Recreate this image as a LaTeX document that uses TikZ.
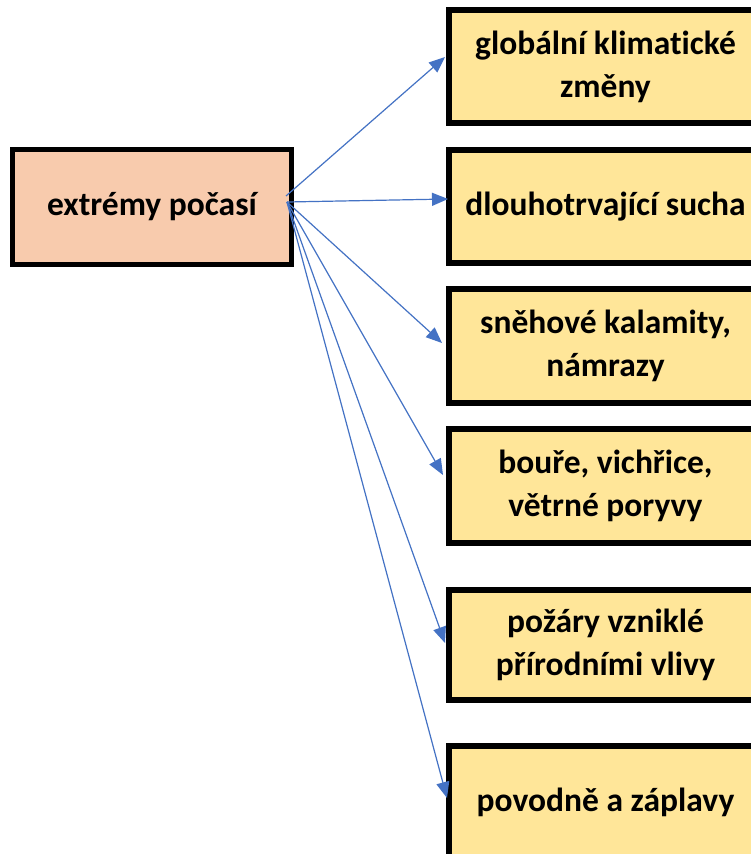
\documentclass[tikz,border=0pt]{standalone}
\usepackage{fontspec}
\setmainfont{Carlito}[Ligatures=NoCommon]
\usetikzlibrary{arrows.meta,calc}
\definecolor{peach}{HTML}{F8CBAD}
\definecolor{sand}{HTML}{FFE699}
\definecolor{linkblue}{HTML}{4472C4}
\tikzset{
  srcbox/.style={draw=black, line width=5pt, fill=peach, minimum width=279pt,
    minimum height=115pt, inner sep=0pt, align=center,
    font=\fontsize{33.5}{43}\selectfont\bfseries},
  topicbox/.style={draw=black, line width=6pt, fill=sand, minimum width=313pt,
    inner sep=0pt, align=center, font=\fontsize{33.5}{43}\selectfont\bfseries},
  link/.style={draw=linkblue, line width=1.2pt,
    -{Triangle[length=16pt,width=13pt]}}
}
\begin{document}
\begin{tikzpicture}[x=1pt,y=-1pt]
\useasboundingbox (0,0) rectangle (751,854);
\begin{scope}
\clip (0,0) rectangle (751,854);
\fill[white] (0,0) rectangle (751,854);

% source box
\node[srcbox] (L) at (152,207) {extrémy počasí};

% topic boxes (they run past the right edge)
\node[topicbox, minimum height=113pt] (b1) at (605.5,66.5) {globální klimatické\\změny};
\node[topicbox, minimum height=113pt] (b2) at (605.5,206.5) {dlouhotrvající sucha};
\node[topicbox, minimum height=114pt] (b3) at (605.5,346) {sněhové kalamity,\\námrazy};
\node[topicbox, minimum height=114pt] (b4) at (605.5,486) {bouře, vichřice,\\větrné poryvy};
\node[topicbox, minimum height=110pt] (b5) at (605.5,645) {požáry vzniklé\\přírodními vlivy};
\node[topicbox, minimum height=113pt] (b6) at (605.5,802.5) {povodně a záplavy};

% connectors
\coordinate (s1) at ($(L.east)+(-8,-11)$);
\coordinate (s2) at ($(L.east)+(-7,-5)$);
\draw[link] (s1) -- ($(b1.west)+(-1,-9.5)$);
\draw[link] (s2) -- ($(b2.west)+(2,-7.5)$);
\draw[link] (s2) -- ($(b3.west)+(-4,-3)$);
\draw[link] (s2) -- ($(b4.west)+(-3,-11)$);
\draw[link] (s2) -- ($(b5.west)+(-1,-2)$);
\draw[link] (s2) -- ($(b6.west)+(1,-4.5)$);
\end{scope}
\end{tikzpicture}
\end{document}
